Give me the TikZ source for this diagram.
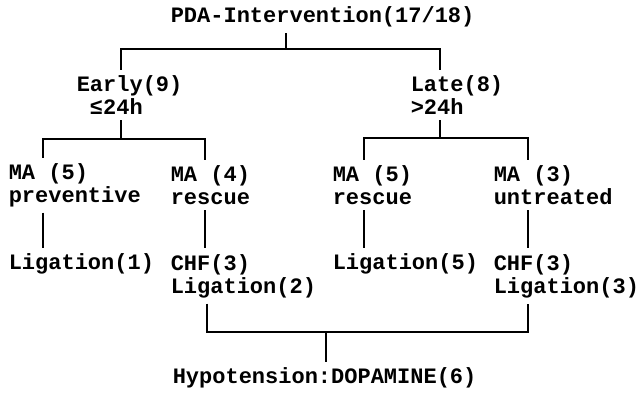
\documentclass[tikz,border=0pt]{standalone}
\usepackage{fontspec}
\setmainfont{Liberation Mono}
\usetikzlibrary{positioning}

\begin{document}
\begin{tikzpicture}[x=0.5pt,y=-0.5pt,line width=0.75pt,
  lbl/.style={anchor=west,align=left,inner xsep=0pt,inner ysep=2.5pt,
    font=\bfseries\fontsize{11pt}{11.5pt}\selectfont}]

\useasboundingbox (0,0) rectangle (642,392);

% top
\node[lbl] (Title) at (170,17) {PDA-Intervention(17/18)};

\coordinate (JoinTop) at (286,49);
\coordinate (JoinEarly) at (121,139);
\coordinate (JoinLate) at (440,138);
\coordinate (JoinBottom) at (326,332);

% 1
\node[lbl] (Early) at (76,95) {Early(9)\\~≤24h};
\node[lbl] (Late) at (410,95) {Late(8)\\>24h};

\draw (Title.south -| JoinTop) -- (JoinTop);
\draw (Early.north -| JoinEarly) |- (JoinTop) -| (Late.north -| JoinLate);

% 2
\node[lbl] (MApreventive) at (8,185) {MA (5)\\preventive};
\node[lbl] (MArescueA) at (170,185) {MA (4)\\rescue};
\node[lbl] (MArescueB) at (332,185) {MA (5)\\rescue};
\node[lbl] (MAuntreated) at (493,185) {MA (3)\\untreated};

\draw (Early.south -| JoinEarly) -- (JoinEarly);
\draw (MApreventive.north -| 43,0) |- (JoinEarly) -| (MArescueA.north -| 205,0);
\draw (Late.south -| JoinLate) -- (JoinLate);
\draw (MArescueB.north -| 364,0) |- (JoinLate) -| (MAuntreated.north -| 528,0);

% 3
\node[lbl] (LigationA) at (8,264) {Ligation(1)};
\node[lbl] (LigationB) at (170,276) {CHF(3)\\Ligation(2)};
\node[lbl] (LigationC) at (332,264) {Ligation(5)};
\node[lbl] (LigationD) at (493,276) {CHF(3)\\Ligation(3)};

\draw (MApreventive.south -| 43,0) -- (LigationA.north -| 43,0);
\draw (MArescueA.south -| 205,0) -- (LigationB.north -| 205,0);
\draw (MArescueB.south -| 364,0) -- (LigationC.north -| 364,0);
\draw (MAuntreated.south -| 528,0) -- (LigationD.north -| 528,0);

% bottom
\node[lbl] (Hypotension) at (172,378) {Hypotension:DOPAMINE(6)};

\draw (LigationB.south -| 207,0) |- (JoinBottom) -| (LigationD.south -| 528,0);
\draw (JoinBottom) -- (Hypotension.north -| JoinBottom);

\end{tikzpicture}
\end{document}
